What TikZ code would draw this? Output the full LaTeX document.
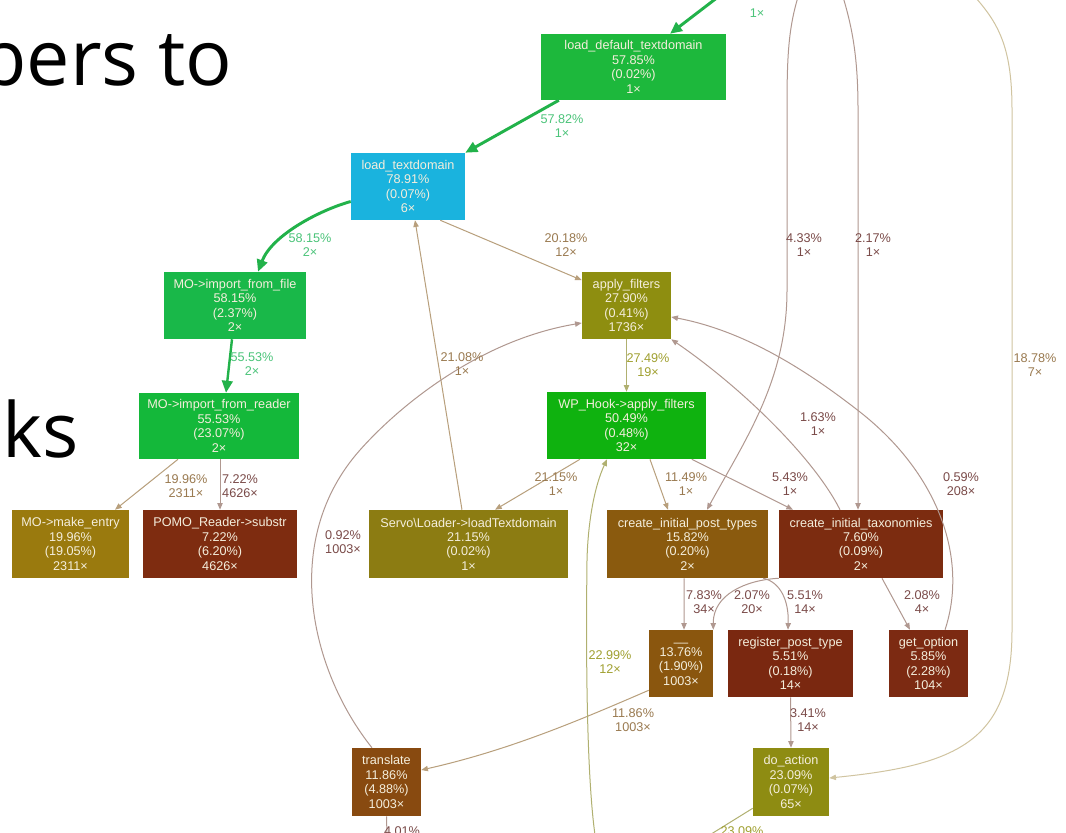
\documentclass[tikz,border=0pt]{standalone}
\usepackage{fontspec}
\setmainfont{Liberation Sans}
\newfontfamily\bigfont{Open Sans}
\usetikzlibrary{arrows.meta,calc}
\newcommand\grfont{\fontsize{9.5}{10.8}\selectfont}
\definecolor{boxtxt}{HTML}{F4EEDC}
\definecolor{gedge}{HTML}{22B24A}
\definecolor{glab}{HTML}{4CC47A}
\definecolor{cldt}{HTML}{1DB83C}
\definecolor{clt}{HTML}{1AB3DE}
\definecolor{cmif}{HTML}{19B849}
\definecolor{cmir}{HTML}{14B83A}
\definecolor{cwph}{HTML}{0FB20F}
\definecolor{cme}{HTML}{9A7A0E}
\definecolor{cpomo}{HTML}{7E2C10}
\definecolor{cservo}{HTML}{8C7C12}
\definecolor{caf}{HTML}{8E8E10}
\definecolor{ccipt}{HTML}{8A5A0E}
\definecolor{ccit}{HTML}{7C2C10}
\definecolor{cuu}{HTML}{8A560E}
\definecolor{crpt}{HTML}{7A2810}
\definecolor{cgo}{HTML}{7C2A12}
\definecolor{cda}{HTML}{8E8C12}
\definecolor{ctr}{HTML}{884A10}
\definecolor{ecg}{HTML}{B09890}
\definecolor{ect}{HTML}{B89F7C}
\definecolor{eco}{HTML}{B0B070}
\definecolor{ecy}{HTML}{D0C4A0}
\definecolor{lbr}{HTML}{7A4A48}
\definecolor{lol}{HTML}{A0A030}
\definecolor{lbn}{HTML}{9A7A50}
\tikzset{
  nb/.style={rectangle, inner sep=0pt, align=center, text=boxtxt, font=\grfont},
  lab/.style={align=center, inner sep=0pt, font=\grfont},
  thn/.style={draw=#1, line width=0.75pt, -{Triangle[length=5pt,width=4pt]}},
  thk/.style={draw=gedge, line width=2.2pt, -{Triangle[length=9pt,width=8pt]}},
}
\begin{document}
\begin{tikzpicture}[x=0.75pt,y=-0.75pt]
\path[use as bounding box] (0,0) rectangle (1066,832);
\fill[white] (0,0) rectangle (1066,832);
\clip (0,0) rectangle (1066,832);

% big slide text
\node[anchor=base west, inner sep=0pt, font=\bigfont\fontsize{58}{60}\selectfont] (t1) at (-21,85) {bers to};
\node[anchor=base west, inner sep=0pt, font=\bigfont\fontsize{57}{60}\selectfont] (t2) at (2,457) {ks};

% nodes
\node[nb, fill=cldt, minimum width=138.75pt, minimum height=49.5pt] (ldt) at (633.5,67) {load\_default\_textdomain\\57.85\%\\(0.02\%)\\1×};
\node[nb, fill=clt, minimum width=85.5pt, minimum height=50.25pt] (lt) at (408,186.5) {load\_textdomain\\78.91\%\\(0.07\%)\\6×};
\node[nb, fill=cmif, minimum width=106.5pt, minimum height=50.25pt] (mif) at (235,305.5) {MO->import\_from\_file\\58.15\%\\(2.37\%)\\2×};
\node[nb, fill=cmir, minimum width=120pt, minimum height=49.5pt] (mir) at (219,426) {MO->import\_from\_reader\\55.53\%\\(23.07\%)\\2×};
\node[nb, fill=cme, minimum width=87.75pt, minimum height=51pt] (me) at (70.5,544) {MO->make\_entry\\19.96\%\\(19.05\%)\\2311×};
\node[nb, fill=cpomo, minimum width=115.5pt, minimum height=51pt] (pomo) at (220,544) {POMO\_Reader->substr\\7.22\%\\(6.20\%)\\4626×};
\node[nb, fill=cservo, minimum width=149.25pt, minimum height=51pt] (servo) at (468.5,544) {Servo\textbackslash Loader->loadTextdomain\\21.15\%\\(0.02\%)\\1×};
\node[nb, fill=caf, minimum width=66.75pt, minimum height=50.25pt] (af) at (626.5,305.5) {apply\_filters\\27.90\%\\(0.41\%)\\1736×};
\node[nb, fill=cwph, minimum width=119.25pt, minimum height=50.25pt] (wph) at (626.5,425.5) {WP\_Hook->apply\_filters\\50.49\%\\(0.48\%)\\32×};
\node[nb, fill=ccipt, minimum width=120.75pt, minimum height=51pt] (cipt) at (687.5,544) {create\_initial\_post\_types\\15.82\%\\(0.20\%)\\2×};
\node[nb, fill=ccit, minimum width=123pt, minimum height=51pt] (cit) at (861,544) {create\_initial\_taxonomies\\7.60\%\\(0.09\%)\\2×};
\node[nb, fill=cuu, minimum width=48pt, minimum height=50.25pt] (uu) at (681,663.5) {\_\_\\13.76\%\\(1.90\%)\\1003×};
\node[nb, fill=crpt, minimum width=93.75pt, minimum height=50.25pt] (rpt) at (790.5,663.5) {register\_post\_type\\5.51\%\\(0.18\%)\\14×};
\node[nb, fill=cgo, minimum width=59.25pt, minimum height=50.25pt] (go) at (928.5,663.5) {get\_option\\5.85\%\\(2.28\%)\\104×};
\node[nb, fill=cda, minimum width=57pt, minimum height=51pt] (da) at (791,782) {do\_action\\23.09\%\\(0.07\%)\\65×};
\node[nb, fill=ctr, minimum width=51.75pt, minimum height=51pt] (tr) at (386.5,782) {translate\\11.86\%\\(4.88\%)\\1003×};

% free ends
\coordinate (t0) at (718,-3);
\coordinate (tA) at (798,-3);
\coordinate (tB) at (843,-3);
\coordinate (tC) at (975,-3);
\coordinate (bA) at (595,835);
\coordinate (bB) at (708,836);
\coordinate (bC) at (387,836);

% green edges
\draw[thk] (t0) -- ([xshift=27.4pt]ldt.north);
\draw[thk] ([xshift=-56pt]ldt.south) -- (lt.north east);
\draw[thk] ([yshift=-11.25pt]lt.west) .. controls (320,210) and (272,235) .. ([xshift=17.25pt]mif.north);
\draw[thk, line width=1.8pt] ([xshift=-2.25pt]mif.south) -- ([xshift=5.25pt]mir.north);

% thin edges
\draw[thn=ect] ([xshift=-30.75pt]mir.south) -- ([xshift=33.4pt]me.north);
\draw[thn=ecg] ([xshift=0.75pt]mir.south) -- (pomo.north);
\draw[thn=ect] ([xshift=-4.9pt]servo.north) -- ([xshift=5.25pt]lt.south);
\draw[thn=ect] ([xshift=-18.75pt]lt.south east) -- ([yshift=19pt]af.west);
\draw[thn=eco] (af.south) -- (wph.north);
\draw[thn=ect] ([xshift=-34.9pt]wph.south) -- ([xshift=19.9pt]servo.north);
\draw[thn=ect] ([xshift=17.6pt]wph.south) -- ([xshift=-14.6pt]cipt.north);
\draw[thn=ecg] ([xshift=49pt]wph.south) -- ([xshift=-51pt]cit.north);
\draw[thn=ecg] (tA) .. controls (788,30) and (787,60) .. (787,110) -- (787,290) .. controls (787,380) and (745,440) .. ([xshift=14.6pt]cipt.north);
\draw[thn=ecg] (tB) .. controls (853,30) and (858,60) .. (858,110) -- ([xshift=-2.25pt]cit.north);
\draw[thn=ecy] (tC) .. controls (1000,25) and (1012,50) .. (1012,110) -- (1012,630) .. controls (1012,740) and (960,765) .. ([yshift=3pt]da.east);
\draw[thn=ecg] ([xshift=-15.75pt]cit.north) .. controls (815,460) and (745,390) .. (af.south east);
\draw[thn=ecg] ([xshift=12.4pt]go.north) .. controls (968,560) and (940,475) .. (860,412) .. controls (800,365) and (740,330) .. ([yshift=-8.6pt]af.east);
\draw[thn=ecg] ([xshift=-10.9pt]tr.north) .. controls (310,670) and (280,540) .. (360,450) .. controls (400,405) and (480,340) .. ([yshift=-13.1pt]af.west);
\draw[thn=ecg] ([xshift=-2.6pt]cipt.south) -- ([xshift=2.25pt]uu.north);
\draw[thn=ecg] (cit.south west) .. controls (745,580) and (713,595) .. (uu.north east);
\draw[thn=ecg] ([xshift=-3.75pt]cipt.south east) .. controls (780,582) and (789,600) .. ([xshift=-1.9pt]rpt.north);
\draw[thn=ecg] ([xshift=15.75pt]cit.south) -- ([xshift=-13.9pt]go.north);
\draw[thn=ecg] (rpt.south) -- (da.north);
\draw[thn=ect] ([yshift=5.25pt]uu.south west) .. controls (580,720) and (510,750) .. ([yshift=9pt]tr.east);
\draw[thn=eco] (bA) .. controls (586,770) and (586,640) .. (587,560) .. controls (588,520) and (595,485) .. ([xshift=-14.6pt]wph.south);
\draw[draw=eco, line width=0.75pt] ([yshift=6pt]da.south west) -- (bB);
\draw[draw=ecg, line width=0.75pt] (tr.south) -- (bC);

% labels
\node[lab, text=glab] (l0) at (757,13) {1×};
\node[lab, text=glab] (l1) at (562,126) {57.82\%\\1×};
\node[lab, text=glab] (l2) at (310,245) {58.15\%\\2×};
\node[lab, text=glab] (l3) at (252,364) {55.53\%\\2×};
\node[lab, text=lbn] (l4) at (186,486) {19.96\%\\2311×};
\node[lab, text=lbr] (l5) at (240,486) {7.22\%\\4626×};
\node[lab, text=lbn] (l6) at (462,364) {21.08\%\\1×};
\node[lab, text=lbn] (l7) at (566,245) {20.18\%\\12×};
\node[lab, text=lol] (l8) at (648,365) {27.49\%\\19×};
\node[lab, text=lbn] (l9) at (556,484) {21.15\%\\1×};
\node[lab, text=lbn] (l10) at (686,484) {11.49\%\\1×};
\node[lab, text=lbr] (l11) at (790,484) {5.43\%\\1×};
\node[lab, text=lbr] (l12) at (804,245) {4.33\%\\1×};
\node[lab, text=lbr] (l13) at (873,245) {2.17\%\\1×};
\node[lab, text=lbn] (l14) at (1035,365) {18.78\%\\7×};
\node[lab, text=lbr] (l15) at (818,424) {1.63\%\\1×};
\node[lab, text=lbr] (l16) at (961,484) {0.59\%\\208×};
\node[lab, text=lbr] (l17) at (343,542) {0.92\%\\1003×};
\node[lab, text=lbr] (l18) at (704,602) {7.83\%\\34×};
\node[lab, text=lbr] (l19) at (752,602) {2.07\%\\20×};
\node[lab, text=lbr] (l20) at (805,602) {5.51\%\\14×};
\node[lab, text=lbr] (l21) at (922,602) {2.08\%\\4×};
\node[lab, text=lbr] (l22) at (808,720) {3.41\%\\14×};
\node[lab, text=lbn] (l23) at (633,720) {11.86\%\\1003×};
\node[lab, text=lol] (l24) at (610,662) {22.99\%\\12×};
\node[lab, text=lol, anchor=north] (l25) at (742,826) {23.09\%};
\node[lab, text=lbr, anchor=north] (l26) at (402,826) {4.01\%};
\end{tikzpicture}
\end{document}
